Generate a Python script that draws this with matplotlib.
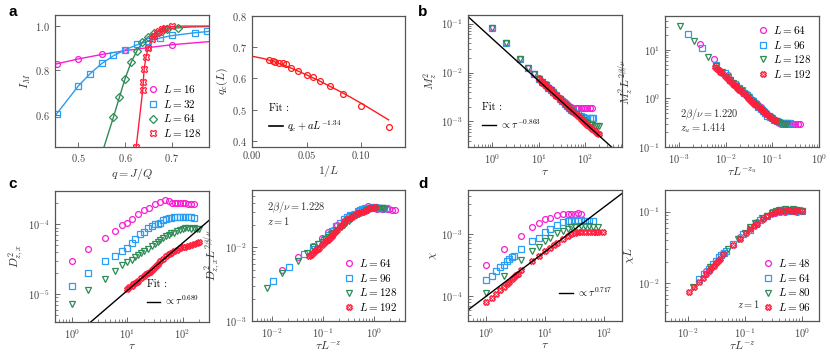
import numpy as np
import matplotlib
matplotlib.use("Agg")
import matplotlib.pyplot as plt
from matplotlib.ticker import NullFormatter

# ---- panel a (left): I_M vs q ----
a_q16 = [0.454, 0.5, 0.55, 0.6, 0.65, 0.7]
a_I16 = [0.830, 0.852, 0.874, 0.894, 0.905, 0.914]
a_q32 = [0.454, 0.5, 0.525, 0.55, 0.575, 0.6, 0.625, 0.65, 0.675, 0.7, 0.75, 0.775]
a_I32 = [0.606, 0.730, 0.785, 0.833, 0.868, 0.894, 0.920, 0.932, 0.947, 0.959, 0.968, 0.977]
a_q64 = [0.575, 0.588, 0.6, 0.613, 0.625, 0.636, 0.65, 0.662, 0.682, 0.69, 0.714]
a_I64 = [0.588, 0.679, 0.762, 0.836, 0.886, 0.927, 0.952, 0.970, 0.982, 0.988, 0.993]
a_q128 = [0.624, 0.638, 0.639, 0.641, 0.645, 0.65, 0.657, 0.662, 0.668, 0.673, 0.68, 0.686, 0.7]
a_I128 = [0.455, 0.712, 0.750, 0.806, 0.861, 0.902, 0.940, 0.955, 0.970, 0.980, 0.988, 0.993, 1.0]
# curves drawn through the points
a_c16_x = [0.45, 0.5, 0.55, 0.6, 0.65, 0.7, 0.78]
a_c16_y = [0.828, 0.852, 0.872, 0.889, 0.903, 0.916, 0.930]
a_c32_x = [0.45, 0.5, 0.525, 0.55, 0.575, 0.6, 0.625, 0.65, 0.675, 0.7, 0.75, 0.78]
a_c32_y = [0.595, 0.730, 0.785, 0.831, 0.866, 0.893, 0.915, 0.932, 0.946, 0.957, 0.970, 0.976]
a_c64_x = [0.555, 0.575, 0.588, 0.6, 0.613, 0.625, 0.636, 0.65, 0.665, 0.68, 0.7, 0.74, 0.78]
a_c64_y = [0.455, 0.588, 0.679, 0.762, 0.836, 0.886, 0.925, 0.952, 0.970, 0.982, 0.990, 0.996, 0.998]
a_c128_x = [0.624, 0.638, 0.641, 0.645, 0.65, 0.657, 0.665, 0.675, 0.69, 0.72, 0.78]
a_c128_y = [0.455, 0.712, 0.806, 0.861, 0.902, 0.940, 0.965, 0.985, 0.996, 1.0, 1.0]

# ---- panel a (right): q_c(L) vs 1/L ----
ar_invL = [0.0156, 0.019, 0.0212, 0.025, 0.028, 0.031, 0.0357, 0.0417, 0.05,
           0.0556, 0.0625, 0.0714, 0.0833, 0.1, 0.125]
ar_qc = [0.660, 0.656, 0.653, 0.650, 0.648, 0.645, 0.634, 0.625, 0.612,
         0.603, 0.591, 0.575, 0.550, 0.513, 0.445]
ar_fit_x = [0, 0.01, 0.02, 0.03, 0.04, 0.05, 0.06, 0.07, 0.08, 0.09, 0.1, 0.11, 0.125]
ar_fit_y = [0.671, 0.664, 0.654, 0.641, 0.627, 0.611, 0.595, 0.577, 0.559, 0.540, 0.520, 0.499, 0.467]

# ---- panel b: M_z^2 vs tau, L = 64, 96, 128, 192 ----
b_L = [64, 96, 128, 192]
b_tau64 = [1, 2, 4, 6, 8, 10, 12, 14, 16, 18, 20, 24, 28, 32, 36, 40, 45, 50, 56, 63,
           70, 80, 90, 100, 112, 125, 140]
b_m64 = [0.083, 0.041, 0.019, 0.0125, 0.0093, 0.0076, 0.0065, 0.0057, 0.0050, 0.0045,
         0.0041, 0.0035, 0.0030, 0.0027, 0.0025, 0.0023, 0.0021, 0.0020, 0.0019, 0.0019,
         0.00188, 0.0019, 0.00188, 0.0019, 0.00189, 0.0019, 0.00188]
b_tau96 = [1, 2, 4, 6, 8, 10, 12, 14, 16, 18, 20, 24, 28, 32, 36, 40, 45, 50, 56, 63,
           70, 80, 90, 100, 112, 125, 140, 150]
b_m96 = [0.083, 0.041, 0.019, 0.0125, 0.0093, 0.0075, 0.0064, 0.0056, 0.0049, 0.0044,
         0.0040, 0.0034, 0.0029, 0.0026, 0.0023, 0.0021, 0.0019, 0.0017, 0.0016, 0.0015,
         0.0014, 0.0013, 0.00125, 0.0012, 0.0012, 0.00118, 0.0012, 0.0012]
b_tau128 = [1, 2, 4, 6, 8, 10, 12, 14, 16, 18, 20, 24, 28, 32, 36, 40, 45, 50, 56, 63,
            70, 80, 90, 100, 112, 125, 140, 160, 180, 200]
b_m128 = [0.083, 0.041, 0.019, 0.0125, 0.0093, 0.0075, 0.0064, 0.0055, 0.0049, 0.0043,
          0.0039, 0.0033, 0.0029, 0.0025, 0.0023, 0.0021, 0.0019, 0.0017, 0.00155, 0.0014,
          0.0013, 0.00116, 0.00106, 0.00098, 0.00091, 0.00086, 0.00083, 0.0008, 0.0008, 0.00079]
b_tau192 = [10, 11, 12, 13, 14, 16, 18, 20, 22, 24, 26, 28, 30, 33, 36, 40, 45, 50, 56, 63,
            70, 80, 90, 100, 112, 125, 140, 160, 180, 200]
b_m192 = [0.0073, 0.0067, 0.0062, 0.0058, 0.0054, 0.0048, 0.0043, 0.0039, 0.0036, 0.0033,
          0.0031, 0.0029, 0.0027, 0.0025, 0.0023, 0.0021, 0.0019, 0.0017, 0.00155, 0.0014,
          0.00128, 0.00114, 0.00103, 0.00094, 0.00085, 0.00077, 0.0007, 0.00064, 0.00059, 0.00056]
b_fit_tau = [0.3, 600]
b_fit_val = [0.139, 1.97e-4]
b_twobeta_nu = 1.220
b_zu = 1.414

# ---- panel c: D^2_{z,x} vs tau, L = 64, 96, 128, 192 ----
c_L = [64, 96, 128, 192]
c_tau64 = [1, 2, 4, 6, 8, 10, 12, 16, 20, 25, 32, 40, 48, 56, 64, 72, 80, 90, 100, 112,
           125, 140, 160]
c_d64 = [2.95e-5, 4.5e-5, 6.4e-5, 8.0e-5, 9.7e-5, 1.05e-4, 1.2e-4, 1.39e-4, 1.59e-4, 1.74e-4,
         1.94e-4, 2.1e-4, 2.2e-4, 2.15e-4, 2.05e-4, 2.0e-4, 2.05e-4, 2.0e-4, 2.05e-4, 2.0e-4,
         1.98e-4, 1.97e-4, 1.94e-4]
c_tau96 = [1, 2, 4, 6, 8, 10, 12, 14, 17, 20, 24, 28, 32, 36, 40, 45, 50, 56, 63, 70, 80,
           90, 100, 112, 125, 140, 160]
c_d96 = [1.29e-5, 2.0e-5, 2.95e-5, 3.5e-5, 4.1e-5, 4.6e-5, 5.4e-5, 6.1e-5, 7.2e-5, 7.8e-5,
         8.8e-5, 9.6e-5, 1.02e-4, 1.0e-4, 1.05e-4, 1.15e-4, 1.18e-4, 1.22e-4, 1.25e-4, 1.26e-4,
         1.27e-4, 1.26e-4, 1.28e-4, 1.27e-4, 1.26e-4, 1.27e-4, 1.25e-4]
c_tau128 = [1, 2, 4, 6, 8, 10, 12, 14, 16, 18, 20, 24, 28, 32, 36, 40, 45, 50, 56, 63, 70,
            80, 90, 100, 112, 125, 140, 160, 180, 200]
c_d128 = [7.2e-6, 1.16e-5, 1.67e-5, 2.17e-5, 2.65e-5, 2.9e-5, 3.1e-5, 3.4e-5, 3.6e-5, 3.9e-5,
          4.1e-5, 4.5e-5, 4.9e-5, 5.2e-5, 5.5e-5, 5.9e-5, 6.3e-5, 6.8e-5, 7.1e-5, 7.4e-5, 7.6e-5,
          7.9e-5, 8.2e-5, 8.6e-5, 8.8e-5, 8.9e-5, 8.7e-5, 8.8e-5, 8.7e-5, 8.6e-5]
c_tau192 = [10, 11, 12, 13, 14, 15, 16, 18, 20, 22, 24, 26, 28, 30, 33, 36, 40, 45, 50, 56,
            63, 70, 80, 90, 100, 112, 125, 140, 160, 180, 200]
c_d192 = [1.2e-5, 1.25e-5, 1.32e-5, 1.38e-5, 1.45e-5, 1.5e-5, 1.56e-5, 1.68e-5, 1.8e-5, 1.92e-5,
          2.0e-5, 2.1e-5, 2.25e-5, 2.35e-5, 2.5e-5, 2.7e-5, 2.95e-5, 3.2e-5, 3.5e-5, 3.75e-5,
          3.95e-5, 4.1e-5, 4.35e-5, 4.55e-5, 4.7e-5, 4.8e-5, 4.95e-5, 5.1e-5, 5.3e-5, 5.45e-5, 5.6e-5]
c_fit_tau = [2.2, 316]
c_fit_val = [4.0e-6, 1.18e-4]
c_twobeta_nu = 1.228
c_z = 1

# ---- panel d: chi vs tau, L = 48, 64, 80, 96 ----
d_L = [48, 64, 80, 96]
d_tau48 = [1, 2, 4, 6, 8, 10, 12, 16, 20, 24, 28, 32, 36, 40]
d_chi48 = [3.1e-4, 5.6e-4, 9.3e-4, 1.26e-3, 1.5e-3, 1.7e-3, 1.8e-3, 2.0e-3, 2.05e-3, 2.05e-3,
           2.1e-3, 2.1e-3, 2.15e-3, 2.05e-3]
d_tau64 = [1, 1.25, 1.5, 1.75, 2, 2.25, 2.5, 2.75, 3, 4, 6, 8, 10, 12, 16, 20, 24, 28, 32,
           36, 40, 48, 56, 64]
d_chi64 = [1.78e-4, 2.1e-4, 2.5e-4, 2.9e-4, 3.2e-4, 3.6e-4, 3.9e-4, 4.2e-4, 4.4e-4, 5.6e-4,
           7.6e-4, 8.6e-4, 1.05e-3, 1.2e-3, 1.36e-3, 1.52e-3, 1.6e-3, 1.62e-3, 1.65e-3, 1.6e-3,
           1.65e-3, 1.6e-3, 1.62e-3, 1.6e-3]
d_tau80 = [1, 2, 4, 6, 8, 10, 12, 16, 20, 24, 28, 32, 40, 48, 56, 64, 80]
d_chi80 = [1.13e-4, 2.1e-4, 3.75e-4, 5.2e-4, 6.2e-4, 7.6e-4, 8.6e-4, 1.02e-3, 1.1e-3, 1.2e-3,
           1.28e-3, 1.3e-3, 1.35e-3, 1.33e-3, 1.35e-3, 1.3e-3, 1.27e-3]
d_tau96 = [1, 1.25, 1.5, 1.75, 2, 2.25, 2.5, 2.75, 3, 3.25, 3.5, 4, 6, 8, 10, 12, 14, 16, 20,
           24, 28, 32, 36, 40, 48, 56, 64, 72, 80, 96]
d_chi96 = [8.0e-5, 9.3e-5, 1.08e-4, 1.24e-4, 1.4e-4, 1.55e-4, 1.7e-4, 1.85e-4, 2.0e-4, 2.15e-4,
           2.3e-4, 2.65e-4, 3.6e-4, 4.4e-4, 5.2e-4, 5.9e-4, 6.5e-4, 7.1e-4, 8.2e-4, 9.1e-4,
           9.8e-4, 1.03e-3, 1.05e-3, 1.06e-3, 1.07e-3, 1.08e-3, 1.06e-3, 1.07e-3, 1.08e-3, 1.06e-3]
d_fit_tau = [0.5, 200]
d_fit_val = [6.0e-5, 4.4e-3]
d_z = 1

plt.rcParams.update({
    "font.family": "serif",
    "font.serif": ["cmr10"],
    "mathtext.fontset": "cm",
    "axes.formatter.use_mathtext": True,
    "axes.unicode_minus": False,
    "font.size": 7.5,
    "axes.edgecolor": "#555555",
    "axes.linewidth": 0.9,
    "axes.labelpad": 1.5,
    "xtick.color": "#555555",
    "ytick.color": "#555555",
    "xtick.labelcolor": "#444444",
    "ytick.labelcolor": "#444444",
    "axes.labelcolor": "#333333",
    "xtick.direction": "in",
    "ytick.direction": "in",
    "xtick.labelsize": 7.5,
    "ytick.labelsize": 7.5,
    "axes.labelsize": 8.5,
})

MAG = "#f81ed2"
BLU = "#2a9df4"
GRN = "#2e8b57"
RED = "#ff1f3d"
colors = [MAG, BLU, GRN, RED]

W, H = 830, 352
fig = plt.figure(figsize=(W / 100, H / 100), dpi=100)


def panel(l, t, r, b):
    ax = fig.add_axes([l / W, (H - b) / H, (r - l) / W, (b - t) / H])
    ax.tick_params(which="major", length=3.5, width=0.6)
    ax.tick_params(which="minor", length=2, width=0.5)
    return ax


def logify(ax):
    ax.set_xscale("log")
    ax.set_yscale("log")
    ax.xaxis.set_minor_formatter(NullFormatter())
    ax.yaxis.set_minor_formatter(NullFormatter())


def mk(ax, x, y, c, m, label=None, ms=4.2):
    ax.plot(x, y, ls="none", marker=m, ms=ms, mfc="none", mec=c, mew=0.9, label=label)


def size_legend(ax, **kw):
    return ax.legend(frameon=False, handlelength=0.8, handletextpad=0.5,
                     labelspacing=0.25, borderaxespad=0.3, fontsize=8, **kw)


def fit_legend(ax, title, **kw):
    return ax.legend(title=title, frameon=False, handlelength=1.3, handletextpad=0.4,
                     fontsize=7.5, title_fontsize=7.5, alignment="left", **kw)


# ---------------- a left ----------------
ax = panel(55, 15, 209, 147)
ax.plot(a_c16_x, a_c16_y, color=MAG, lw=1)
ax.plot(a_c32_x, a_c32_y, color=BLU, lw=1)
ax.plot(a_c64_x, a_c64_y, color=GRN, lw=1)
ax.plot(a_c128_x, a_c128_y, color=RED, lw=1)
mk(ax, a_q16, a_I16, MAG, "o", r"$L = 16$")
mk(ax, a_q32, a_I32, BLU, "s", r"$L = 32$")
mk(ax, a_q64, a_I64, GRN, "D", r"$L = 64$", ms=3.8)
mk(ax, a_q128, a_I128, RED, "X", r"$L = 128$", ms=4.6)
ax.set_xlim(0.45, 0.78)
ax.set_ylim(0.455, 1.05)
ax.set_xticks([0.5, 0.6, 0.7])
ax.set_yticks([0.6, 0.8, 1.0])
ax.set_xlabel(r"$q = J/Q$")
ax.set_ylabel(r"$I_M$")
size_legend(ax, loc="lower right")

# ---------------- a right ----------------
ax = panel(252, 16, 405, 147)
ax.plot(ar_fit_x, ar_fit_y, color="#ff1a1a", lw=1, zorder=1)
ax.plot([], [], color="k", lw=1.2, label=r"$q_{\rm c} + aL^{-1.34}$")
mk(ax, ar_invL, ar_qc, "#ff1a1a", "o")
ax.set_xlim(0, 0.14)
ax.set_ylim(0.38, 0.8)
ax.set_xticks([0, 0.05, 0.10])
ax.set_xticklabels(["0.00", "0.05", "0.10"])
ax.set_yticks([0.4, 0.5, 0.6, 0.7, 0.8])
ax.set_xlabel(r"$1/L$")
ax.set_ylabel(r"$q_{\rm c}(L)$")
fit_legend(ax, "Fit :", loc="lower left", bbox_to_anchor=(0.05, 0.03))

# ---------------- b left ----------------
b_tau = [b_tau64, b_tau96, b_tau128, b_tau192]
b_m = [b_m64, b_m96, b_m128, b_m192]
marks = ["o", "s", "v", "X"]
ax = panel(468, 15, 622, 147)
logify(ax)
for tau, m, c, mm in zip(b_tau, b_m, colors, marks):
    mk(ax, tau, m, c, mm)
ax.plot(b_fit_tau, b_fit_val, color="k", lw=1, label=r"$\propto \tau^{-0.863}$")
ax.set_xlim(0.3, 620)
ax.set_ylim(3e-4, 0.15)
ax.set_xlabel(r"$\tau$")
ax.set_ylabel(r"$M_z^2$")
fit_legend(ax, "Fit :", loc="lower left", bbox_to_anchor=(0.03, 0.05))

# ---------------- b right ----------------
ax = panel(665, 16, 819, 147)
logify(ax)
for L, tau, m, c, mm in zip(b_L, b_tau, b_m, colors, marks):
    mk(ax, np.array(tau) * L ** (-b_zu), np.array(m) * L ** b_twobeta_nu, c, mm, rf"$L = {L}$")
ax.set_xlim(5e-4, 1)
ax.set_ylim(0.1, 50)
ax.set_xlabel(r"$\tau L^{-z_u}$", labelpad=0.5)
ax.set_ylabel(r"$M_z^2L^{2\beta/\nu}$")
size_legend(ax, loc="upper right")
ax.text(0.1, 0.23, r"$2\beta/\nu = 1.220$", transform=ax.transAxes, fontsize=7.5, color="#333333")
ax.text(0.1, 0.12, r"$z_u = 1.414$", transform=ax.transAxes, fontsize=7.5, color="#333333")

# ---------------- c left ----------------
c_tau = [c_tau64, c_tau96, c_tau128, c_tau192]
c_d = [c_d64, c_d96, c_d128, c_d192]
ax = panel(55, 191, 209, 322)
logify(ax)
for tau, d, c, mm in zip(c_tau, c_d, colors, marks):
    mk(ax, tau, d, c, mm)
ax.plot(c_fit_tau, c_fit_val, color="k", lw=1, label=r"$\propto \tau^{0.689}$")
ax.set_xlim(0.5, 300)
ax.set_ylim(4e-6, 3e-4)
ax.set_xlabel(r"$\tau$", labelpad=0.5)
ax.set_ylabel(r"$D^2_{z,x}$")
fit_legend(ax, "Fit :", loc="lower right", bbox_to_anchor=(1.0, 0.04))

# ---------------- c right ----------------
ax = panel(252, 190, 405, 321)
logify(ax)
for L, tau, d, c, mm in zip(c_L, c_tau, c_d, colors, marks):
    mk(ax, np.array(tau) * L ** (-c_z), np.array(d) * L ** c_twobeta_nu, c, mm, rf"$L = {L}$")
ax.set_xlim(4e-3, 4)
ax.set_ylim(1e-3, 0.06)
ax.set_xlabel(r"$\tau L^{-z}$", labelpad=0)
ax.set_ylabel(r"$D^2_{z,x}L^{2\beta/\nu}$")
size_legend(ax, loc="lower right")
ax.text(0.1, 0.85, r"$2\beta/\nu = 1.228$", transform=ax.transAxes, fontsize=7.5, color="#333333")
ax.text(0.1, 0.73, r"$z = 1$", transform=ax.transAxes, fontsize=7.5, color="#333333")

# ---------------- d left ----------------
d_tau = [d_tau48, d_tau64, d_tau80, d_tau96]
d_chi = [d_chi48, d_chi64, d_chi80, d_chi96]
ax = panel(468, 190, 622, 321)
logify(ax)
for tau, ch, c, mm in zip(d_tau, d_chi, colors, marks):
    mk(ax, tau, ch, c, mm)
ax.plot(d_fit_tau, d_fit_val, color="k", lw=1, label=r"$\propto \tau^{0.717}$")
ax.set_xlim(0.5, 200)
ax.set_ylim(4e-5, 5e-3)
ax.set_xlabel(r"$\tau$", labelpad=0.5)
ax.set_ylabel(r"$\chi$")
fit_legend(ax, None, loc="lower right", bbox_to_anchor=(1.0, 0.1))

# ---------------- d right ----------------
ax = panel(665, 190, 819, 321)
logify(ax)
for L, tau, ch, c, mm in zip(d_L, d_tau, d_chi, colors, marks):
    mk(ax, np.array(tau) * L ** (-d_z), np.array(ch) * L, c, mm, rf"$L = {L}$")
ax.set_xlim(4e-3, 2)
ax.set_ylim(3e-3, 0.2)
ax.set_xlabel(r"$\tau L^{-z}$", labelpad=0)
ax.set_ylabel(r"$\chi L$")
size_legend(ax, loc="lower right")
ax.text(0.47, 0.1, r"$z = 1$", transform=ax.transAxes, fontsize=7.5, color="#333333")

for s, x, y in [("a", 8, 12), ("b", 418, 12), ("c", 8, 184), ("d", 418, 184)]:
    fig.text(x / W, 1 - y / H, s, family="Liberation Sans", fontsize=11,
             fontweight="bold", va="center", ha="left")

fig.savefig("out.png", dpi=100)
